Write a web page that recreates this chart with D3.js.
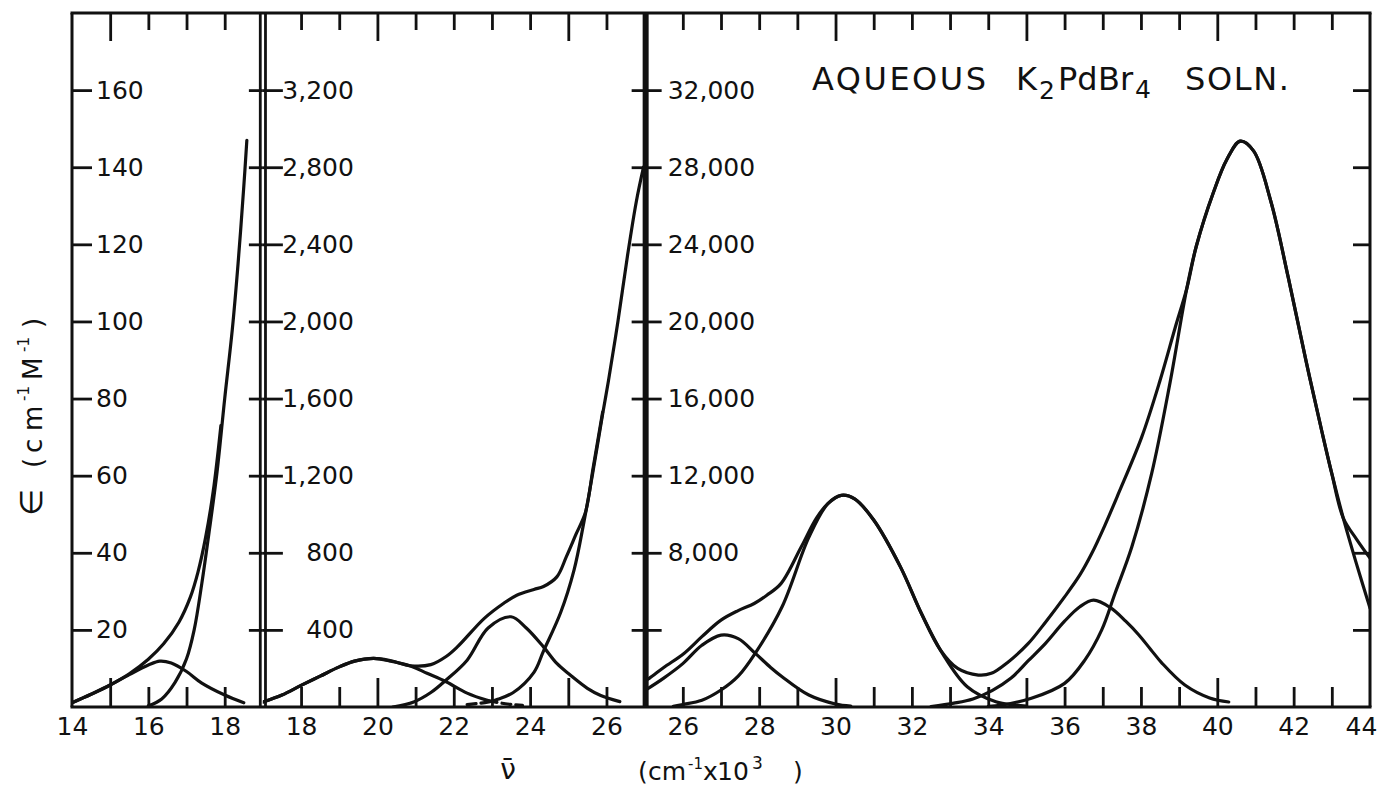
<!DOCTYPE html>
<html>
<head>
<meta charset="utf-8">
<title>Aqueous K2PdBr4 solution</title>
<script src="https://cdn.jsdelivr.net/npm/d3@7/dist/d3.min.js"></script>
<style>
  body { margin: 0; background: #fff; }
  #chart svg { display: block; }
  text { font-family: 'DejaVu Sans', sans-serif; fill: #111; }
</style>
</head>
<body>
<div id="chart"></div>
<script>
// three panels share one wavenumber axis (10^3 cm^-1), each with its own epsilon scale
const panelDomains = [[14, 19], [17, 27], [25, 44]];
const panelYMax = [180, 3600, 36000];

const p1YTicks = [20, 40, 60, 80, 100, 120, 140, 160];
const p2YTicks = [400, 800, 1200, 1600, 2000, 2400, 2800, 3200];
const p3YTicks = [4000, 8000, 12000, 16000, 20000, 24000, 28000, 32000];
const p3YLabels = [8000, 12000, 16000, 20000, 24000, 28000, 32000];

const p1XLabels = [14, 16, 18];
const p2XLabels = [18, 20, 22, 24, 26];
const p3XLabels = [26, 28, 30, 32, 34, 36, 38, 40, 42, 44];

// panel 1: weak band near 16.4 and the rising edge of the next one
const p1Band = [[14.0, 1.1], [14.5, 3.3], [15.0, 5.7], [15.5, 8.4], [16.0, 10.9], [16.3, 11.9], [16.6, 11.4],
                [17.0, 9.2], [17.4, 6.2], [18.0, 3.1], [18.5, 1.1]];
const p1Rise = [[16.0, 0.3], [16.35, 2.1], [16.7, 6.4], [17.0, 12.5], [17.2, 20], [17.4, 32], [17.6, 46],
                [17.8, 61], [18.0, 80], [18.2, 98], [18.35, 115], [18.5, 135], [18.58, 147]];
const p1Total = [[14.0, 1.1], [14.5, 3.3], [15.0, 5.7], [15.5, 8.6], [16.0, 12.4], [16.4, 16.4], [16.8, 22],
                 [17.1, 28.5], [17.3, 35], [17.5, 44], [17.7, 56], [17.9, 73]];

// panel 2
const p2BandA = [[17.0, 26], [17.5, 62], [18.0, 112], [18.5, 160], [19.0, 208], [19.4, 238], [19.9, 252],
                 [20.35, 238], [20.9, 210], [21.3, 175], [21.8, 131], [22.35, 72], [22.9, 33]];
const p2BandATail = [[22.9, 33], [23.35, 17], [23.8, 8]];
const p2BandB = [[20.4, 0], [20.95, 26], [21.4, 75], [21.8, 140], [22.35, 243], [22.9, 410], [23.5, 468],
                 [23.9, 410], [24.35, 312], [24.7, 226], [25.05, 166], [25.5, 97], [25.85, 60], [26.35, 28]];
const p2BandCStart = [[22.35, 12], [22.7, 20], [23.0, 30]];
const p2BandC = [[23.0, 30], [23.15, 40], [23.55, 74], [24.1, 180], [24.35, 290], [24.8, 490], [25.15, 710],
                 [25.4, 950], [25.65, 1225], [25.9, 1520], [26.05, 1690], [26.3, 2000], [26.55, 2340],
                 [26.78, 2620], [26.97, 2800]];
const p2Total = [[17.0, 26], [17.5, 62], [18.0, 112], [18.5, 160], [19.0, 208], [19.4, 238], [19.9, 252],
                 [20.35, 240], [20.87, 214], [21.4, 220], [21.8, 262], [22.1, 313], [22.8, 460], [23.3, 537],
                 [23.65, 580], [24.1, 610], [24.35, 625], [24.7, 675], [24.95, 780], [25.2, 895],
                 [25.45, 1010], [25.65, 1240], [25.9, 1530]];

// panel 3
const p3BandD = [[25.0, 850], [25.5, 1500], [26.0, 2250], [26.5, 3200], [27.0, 3730], [27.45, 3550],
                 [27.9, 2780], [28.3, 2050], [28.6, 1570], [29.3, 620], [30.0, 155], [30.4, 50]];
const p3BandE = [[25.75, 40], [26.0, 130], [26.5, 350], [27.0, 880], [27.45, 1600], [27.9, 2800],
                 [28.6, 5200], [29.3, 8800], [29.8, 10550], [30.15, 10980], [30.5, 10800], [31.0, 9700],
                 [31.7, 7270], [32.25, 4850], [32.8, 2780], [33.45, 1050], [34.2, 270], [34.7, 100], [35.0, 50]];
const p3BandF = [[32.5, 20], [33.1, 200], [33.6, 420], [34.1, 850], [34.6, 1500], [35.05, 2400],
                 [35.5, 3300], [36.0, 4450], [36.4, 5200], [36.76, 5540], [37.2, 5150], [37.6, 4450],
                 [37.94, 3750], [38.25, 3000], [38.55, 2280], [39.15, 1140], [39.8, 470], [40.3, 260]];
const p3BandG = [[34.0, 30], [34.35, 100], [35.13, 450], [36.0, 1227], [36.53, 2434], [36.97, 3988],
                 [37.32, 5888], [37.76, 8300], [38.28, 12100], [38.76, 16800], [39.2, 21700], [39.45, 23900],
                 [39.9, 26700], [40.25, 28400], [40.6, 29350], [40.95, 28850], [41.4, 26250], [41.86, 22270],
                 [42.33, 17900], [42.75, 14200], [43.0, 12100], [43.3, 9800], [43.65, 7400], [44.0, 5130]];
const p3Total = [[25.0, 1350], [25.12, 1486], [25.5, 2050], [26.03, 2780], [26.5, 3650], [27.0, 4505],
                 [27.45, 5000], [27.87, 5370], [28.2, 5800], [28.57, 6400], [29.1, 8300], [29.5, 9800],
                 [29.8, 10550], [30.15, 10980], [30.5, 10800], [31.0, 9700], [31.7, 7270], [32.25, 4850],
                 [32.75, 2950], [33.2, 2000], [33.74, 1657], [34.08, 1745], [34.5, 2300], [35.05, 3300],
                 [35.5, 4400], [36.0, 5712], [36.4, 6850], [36.71, 7960], [37.05, 9400], [37.41, 11067],
                 [38.02, 14000], [38.5, 16935], [38.9, 19700], [39.2, 21700], [39.45, 23900], [39.9, 26700],
                 [40.25, 28400], [40.6, 29350], [40.95, 28850], [41.4, 26250], [41.86, 22270], [42.33, 17900],
                 [42.75, 14200], [43.0, 12100], [43.3, 9800], [43.65, 8700], [44.0, 7720]];

const ink = '#111';
const frame = { left: 72, right: 1370, top: 13, bottom: 707 };
const fmt = d3.format(',');

const svg = d3.select('#chart').append('svg')
    .attr('width', 1382)
    .attr('height', 787);

const pxPerUnit = (frame.right - frame.left) / d3.sum(panelDomains, d => d[1] - d[0]);

const panelConfig = [
    { solid: [p1Band, p1Rise, p1Total], dashed: [], yTicks: p1YTicks, yLabels: p1YTicks, xLabels: p1XLabels,
      leftTick: 20, leftPad: 4, rightTick: 14, alignEnd: false },
    { solid: [p2BandA, p2BandB, p2BandC, p2Total], dashed: [p2BandATail, p2BandCStart], yTicks: p2YTicks,
      yLabels: p2YTicks, xLabels: p2XLabels, leftTick: 20, leftPad: 4, rightTick: 13, alignEnd: true },
    { solid: [p3BandD, p3BandE, p3BandF, p3BandG, p3Total], dashed: [], yTicks: p3YTicks, yLabels: p3YLabels,
      xLabels: p3XLabels, leftTick: 17, leftPad: 6, rightTick: 17, alignEnd: false }
];

function styleAxis(g) {
    g.select('.domain').remove();
    g.attr('font-family', null).attr('font-size', null);
    g.selectAll('.tick line').attr('stroke', ink).attr('stroke-width', 2.8);
    g.selectAll('.tick text').attr('font-size', 25).attr('fill', ink);
}

let cursor = frame.left;
const panels = panelDomains.map((dom, i) => {
    const x0 = cursor;
    const x1 = cursor + (dom[1] - dom[0]) * pxPerUnit;
    cursor = x1;
    return Object.assign({
        x: d3.scaleLinear().domain(dom).range([x0, x1]),
        y: d3.scaleLinear().domain([0, panelYMax[i]]).range([frame.bottom, frame.top])
    }, panelConfig[i]);
});

panels.forEach((p, i) => {
    const [x0, x1] = p.x.range();
    const dom = p.x.domain();
    const inner = d3.range(dom[0] + 1, dom[1]);

    // curves
    const clipId = 'clip' + i;
    svg.append('clipPath').attr('id', clipId)
       .append('rect')
       .attr('x', x0).attr('y', frame.top)
       .attr('width', x1 - x0).attr('height', frame.bottom - frame.top);

    const line = d3.line()
        .x(d => p.x(d[0]))
        .y(d => p.y(d[1]))
        .curve(d3.curveCatmullRom.alpha(0.5));

    const curves = svg.append('g').attr('clip-path', `url(#${clipId})`)
        .attr('fill', 'none').attr('stroke', ink)
        .attr('stroke-width', 3.2).attr('stroke-linecap', 'round').attr('stroke-linejoin', 'round');

    curves.selectAll('path.solid')
        .data(p.solid)
        .enter()
        .append('path')
        .attr('class', 'solid')
        .attr('d', line);

    curves.selectAll('path.dashed')
        .data(p.dashed)
        .enter()
        .append('path')
        .attr('class', 'dashed')
        .attr('stroke-dasharray', '9,5')
        .attr('d', line);

    // bottom ticks, pointing up; every fifth one longer
    svg.append('g')
       .attr('transform', `translate(0,${frame.bottom})`)
       .call(d3.axisBottom(p.x).tickValues(inner).tickSize(-20).tickFormat(''))
       .call(styleAxis)
       .selectAll('.tick line').attr('y2', d => d % 5 === 0 ? -29 : -20);

    // top ticks, pointing down
    svg.append('g')
       .attr('transform', `translate(0,${frame.top})`)
       .call(d3.axisTop(p.x).tickValues(inner).tickSize(-17).tickFormat(''))
       .call(styleAxis)
       .selectAll('.tick line').attr('y2', d => d % 5 === 0 ? 28 : 17);

    // bottom labels
    const xl = svg.append('g')
       .attr('transform', `translate(0,${frame.bottom})`)
       .call(d3.axisBottom(p.x).tickValues(p.xLabels).tickSize(0).tickPadding(10).tickFormat(d3.format('d')))
       .call(styleAxis);
    xl.selectAll('.tick text').filter(d => d === 44).attr('dx', -9);

    // left axis of the panel, ticks pointing in, labels inside
    const yl = svg.append('g')
       .attr('transform', `translate(${x0},0)`)
       .call(d3.axisRight(p.y).tickValues(p.yTicks).tickSize(p.leftTick).tickPadding(p.leftPad)
             .tickFormat(d => p.yLabels.includes(d) ? fmt(d) : ''))
       .call(styleAxis);
    if (p.alignEnd) {
        yl.selectAll('.tick text').attr('text-anchor', 'end').attr('x', 91);
    }

    // right side ticks
    svg.append('g')
       .attr('transform', `translate(${x1},0)`)
       .call(d3.axisLeft(p.y).tickValues(p.yTicks).tickSize(p.rightTick).tickFormat(''))
       .call(styleAxis);
});

// frame
const frameG = svg.append('g').attr('stroke', ink).attr('fill', 'none');
frameG.append('line')
      .attr('x1', frame.left - 1.5).attr('x2', frame.right + 1.5)
      .attr('y1', frame.top).attr('y2', frame.top).attr('stroke-width', 3);
frameG.append('line')
      .attr('x1', frame.left - 1.5).attr('x2', frame.right + 1.5)
      .attr('y1', frame.bottom).attr('y2', frame.bottom).attr('stroke-width', 3.2);
frameG.append('line')
      .attr('x1', frame.left).attr('x2', frame.left)
      .attr('y1', frame.top).attr('y2', frame.bottom).attr('stroke-width', 3);
frameG.append('line')
      .attr('x1', frame.right).attr('x2', frame.right)
      .attr('y1', frame.top).attr('y2', frame.bottom).attr('stroke-width', 3);

// divider between panels 1 and 2: double rule
const d1 = panels[0].x.range()[1];
[-2.6, 2.6].forEach(off => {
    frameG.append('line')
          .attr('x1', d1 + off).attr('x2', d1 + off)
          .attr('y1', frame.top).attr('y2', frame.bottom).attr('stroke-width', 2.8);
});
// divider between panels 2 and 3: heavy rule
const d2 = panels[1].x.range()[1];
frameG.append('line')
      .attr('x1', d2 + 1).attr('x2', d2 + 1)
      .attr('y1', frame.top).attr('y2', frame.bottom).attr('stroke-width', 6);

// title
const title = svg.append('g').attr('font-size', 32);
title.append('text').attr('x', 812).attr('y', 90)
     .attr('textLength', 174).attr('lengthAdjust', 'spacing').text('AQUEOUS');
const formula = title.append('text').attr('x', 1016).attr('y', 90);
formula.append('tspan').text('K');
formula.append('tspan').attr('x', 1039).attr('y', 99).attr('font-size', 25).text('2');
formula.append('tspan').attr('x', 1058).attr('y', 90).text('Pd');
formula.append('tspan').attr('x', 1098).attr('y', 90).text('Br');
formula.append('tspan').attr('x', 1135).attr('y', 98).attr('font-size', 25).text('4');
title.append('text').attr('x', 1185).attr('y', 90)
     .attr('textLength', 104).attr('lengthAdjust', 'spacing').text('SOLN.');

// x axis title
svg.append('text')
   .attr('x', 508).attr('y', 779)
   .attr('text-anchor', 'middle')
   .attr('font-size', 28)
   .text('\u03BD\u0304');

const xUnit = svg.append('text').attr('y', 780).attr('font-size', 25);
xUnit.append('tspan').attr('x', 638).text('(');
xUnit.append('tspan').attr('x', 648).text('cm');
xUnit.append('tspan').attr('x', 688).attr('y', 769).attr('font-size', 15).text('-1');
xUnit.append('tspan').attr('x', 703).attr('y', 780).text('x');
xUnit.append('tspan').attr('x', 717).attr('y', 780).text('10');
xUnit.append('tspan').attr('x', 752).attr('y', 769).attr('font-size', 17).text('3');
xUnit.append('tspan').attr('x', 793).attr('y', 780).text(')');

// y axis title, rotated
const yTitle = svg.append('text')
   .attr('transform', 'translate(42,0) rotate(-90)')
   .attr('font-size', 26);
yTitle.append('tspan').attr('x', -516).attr('y', 0).attr('font-size', 31).text('\u2208');
yTitle.append('tspan').attr('x', -468).attr('y', 0).text('(');
yTitle.append('tspan').attr('x', -453).attr('y', 0).text('c');
yTitle.append('tspan').attr('x', -431).attr('y', 0).text('m');
yTitle.append('tspan').attr('x', -401).attr('y', -13).attr('font-size', 15).text('-1');
yTitle.append('tspan').attr('x', -380).attr('y', 0).text('M');
yTitle.append('tspan').attr('x', -352).attr('y', -13).attr('font-size', 15).text('-1');
yTitle.append('tspan').attr('x', -328).attr('y', 0).text(')');
</script>
</body>
</html>
